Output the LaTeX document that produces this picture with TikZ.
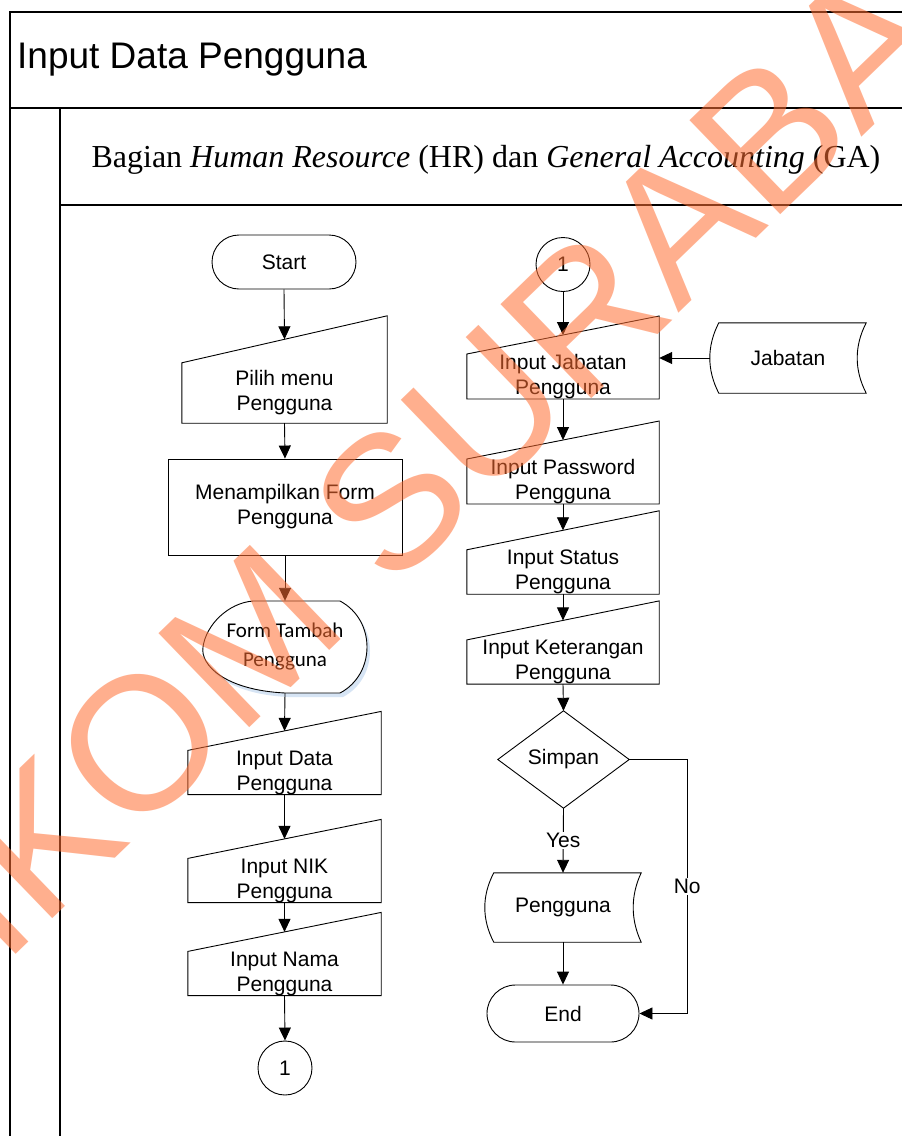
\documentclass[tikz,border=0pt]{standalone}
\usepackage{fontspec}
\setmainfont{Liberation Serif}
\newfontfamily\arialfont{Liberation Sans}
\newfontfamily\calfont{Carlito}
\usetikzlibrary{arrows.meta,calc}

\definecolor{wm}{RGB}{255,110,50}
\definecolor{shadowblue}{RGB}{214,228,244}

% manual input card: name, x-centre, y of top-left corner, y of bottom, width, slant, text
\newcommand{\mancard}[7]{%
  \node[boxtxt, minimum width=#5, minimum height={#4-#3}] (#1) at (#2,{(#3+#4)/2}) {#7};
  \draw[shp] (#1.south west) -- (#1.south east) -- ([yshift=#6]#1.north east) -- (#1.north west) -- cycle;
  \coordinate (#1-in) at ([yshift={#6/2}]#1.north);
}

% stored data outline around a node: name, depth of left bulge, depth of right notch
\newcommand{\storeoutline}[3]{%
  \draw[shp] ($(#1.north west)+(#2,0)$) -- (#1.north east)
    .. controls ($(#1.east)+({-4*#3/3},-12)$) and ($(#1.east)+({-4*#3/3},12)$) .. (#1.south east)
    -- ($(#1.south west)+(#2,0)$)
    .. controls ($(#1.west)+({#2-4*#2/3},12)$) and ($(#1.west)+({#2-4*#2/3},-12)$) .. ($(#1.north west)+(#2,0)$) -- cycle;
}

\begin{document}
\begin{tikzpicture}[x=1pt,y=-1pt,
  shp/.style={draw=black, line width=0.9pt},
  frame/.style={draw=black, line width=1.4pt},
  boxtxt/.style={font=\arialfont\fontsize{21}{25}\selectfont, align=center, inner sep=0pt},
  arr/.style={draw=black, line width=0.9pt, -{Triangle[length=13pt,width=12pt]}},
  lbl/.style={fill=white, font=\arialfont\fontsize{21}{25}\selectfont, inner sep=1.5pt},
]
\useasboundingbox (0,0) rectangle (902,1136);
\clip (0,0) rectangle (902,1136);
\fill[white] (0,0) rectangle (902,1136);

% pool and lane frame
\draw[frame] (905,12) -- (10,12) -- (10,1140);
\draw[frame] (10,108) -- (905,108);
\draw[frame] (60,108) -- (60,1140);
\draw[frame] (60,205) -- (905,205);

\node[anchor=west, inner sep=0pt, font=\arialfont\fontsize{37}{37}\selectfont] (title) at (17,60) {Input Data Pengguna};
\node[inner sep=0pt, font=\fontsize{32}{32}\selectfont] (lane) at (486,160)
  {Bagian \textit{Human Resource} (HR) dan \textit{General Accounting} (GA)};

% left column
\node[boxtxt, shp, draw, minimum width=144, minimum height=54, rounded corners=27] (start) at (284,262) {Start};
\mancard{pm}{284.5}{363}{423}{205}{47}{Pilih menu\\Pengguna}
\node[boxtxt, shp, draw, minimum width=234, minimum height=96] (mf) at (285,507) {Menampilkan Form\\Pengguna};

\node[inner sep=0pt, minimum width=164, minimum height=92] (ftp) at (285,647) {};
\fill[shadowblue] (256,605) -- (343,605) .. controls (379,624) and (379,678) .. (343,697) -- (288,697) .. controls (228,694) and (203,669) .. (206,651) .. controls (209,629) and (231,607) .. (256,605) -- cycle;
\draw[shp, fill=white] (253,601) -- (340,601) .. controls (376,620) and (376,674) .. (340,693) -- (285,693) .. controls (225,690) and (200,665) .. (203,647) .. controls (206,625) and (228,603) .. (253,601) -- cycle;
\node[font=\calfont\fontsize{21}{29}\selectfont, align=center, inner sep=0pt] (ftptxt) at (ftp.center) {Form Tambah\\Pengguna};

\mancard{ida}{284.5}{753}{792}{193}{39}{Input Data\\Pengguna}
\mancard{nik}{284.5}{861}{900}{193}{39}{Input NIK\\Pengguna}
\mancard{nama}{284.5}{954}{993}{193}{39}{Input Nama\\Pengguna}
\node[boxtxt, shp, draw, circle, minimum size=54] (c1) at (285,1068) {1};

% right column
\node[boxtxt, shp, draw, circle, minimum size=54] (c2) at (563,264.5) {1};
\mancard{ij}{563}{357}{396}{192}{38}{Input Jabatan\\Pengguna}
\mancard{pw}{563}{462}{501}{192}{38}{Input Password\\Pengguna}
\mancard{st}{563}{552}{592}{192}{39}{Input Status\\Pengguna}
\mancard{ket}{563}{642}{682}{192}{39}{Input Keterangan\\Pengguna}

\node[boxtxt, minimum width=156, minimum height=70] (jab) at (788,358) {Jabatan};
\storeoutline{jab}{9}{9}

\node[boxtxt, minimum width=131, minimum height=97] (sp) at (563.5,759.5) {Simpan};
\draw[shp] (sp.north) -- (sp.east) -- (sp.south) -- (sp.west) -- cycle;

\node[boxtxt, minimum width=156, minimum height=69] (pg) at (563,907.5) {Pengguna};
\storeoutline{pg}{9}{8}

\node[boxtxt, shp, draw, minimum width=152, minimum height=57, rounded corners=28.5] (end) at (563,1013.5) {End};

% connectors
\draw[arr] (start.south) -- (pm-in);
\draw[arr] (pm.south) -- (mf.north);
\draw[arr] (mf.south) -- (ftp.north);
\draw[arr] (ftp.south) -- (ida-in);
\draw[arr] (ida.south) -- (nik-in);
\draw[arr] (nik.south) -- (nama-in);
\draw[arr] (nama.south) -- (c1.north);
\draw[arr] (c2.south) -- (ij-in);
\draw[arr] (jab.west) -- (jab.west -| ij.east);
\draw[arr] (ij.south) -- (pw-in);
\draw[arr] (pw.south) -- (st-in);
\draw[arr] (st.south) -- (ket-in);
\draw[arr] (ket.south) -- (sp.north);
\draw[arr] (sp.south) -- node[lbl] (yes) {Yes} (pg.north);
\draw[arr] (pg.south) -- (end.north);
\draw[arr] (sp.east) -- ++(58,0) |- node[lbl, pos=0.25] (no) {No} (end.east);

% watermark
\node[rotate=44, text=wm, text opacity=0.55, inner sep=0pt, font=\arialfont\fontsize{190}{190}\selectfont] (wmark) at (426,467) {STIKOM SURABAYA};
\end{tikzpicture}
\end{document}
